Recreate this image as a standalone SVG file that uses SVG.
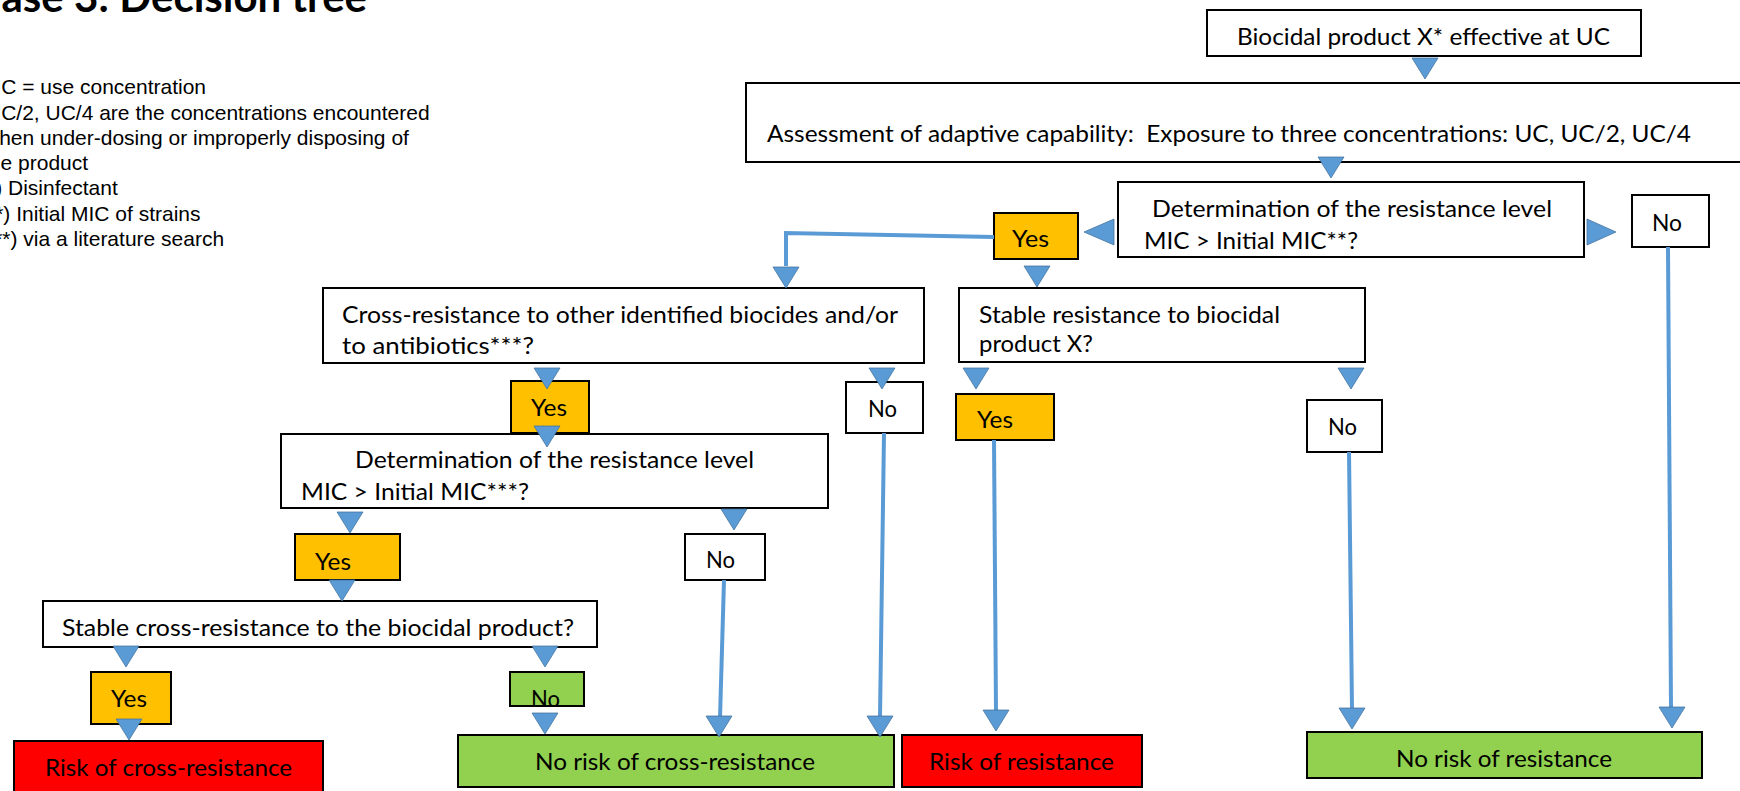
<svg xmlns="http://www.w3.org/2000/svg" width="1740" height="791" viewBox="0 0 1740 791">
<style>
.box{stroke:#000;stroke-width:2}
.w{fill:#fff}.y{fill:#FFC000}.g{fill:#92D050}.r{fill:#FF0000}
.t{font-family:Lato,'Open Sans',sans-serif;font-size:23px;fill:#000}
.leg{font-family:'Liberation Sans',Arial,sans-serif;font-size:21px;fill:#000}
.title{font-family:Lato,'Open Sans',sans-serif;font-size:42px;font-weight:700;fill:#000}
.conn{stroke:#5B9BD5;stroke-width:4;fill:none}
.arr{fill:#5B9BD5;stroke:#41719C;stroke-width:0.75}
</style>
<defs>
<path id="tri" d="M-13,0 L13,0 L0,21 Z"/>
</defs>
<rect width="1740" height="791" fill="#fff"/>
<g id="title"><text class="title" x="367" y="12" text-anchor="end">Phase 3: Decision tree</text></g>
<g id="legend">
<text class="leg" x="-14" y="94">UC = use concentration</text>
<text class="leg" x="-14" y="119.5">UC/2, UC/4 are the concentrations encountered</text>
<text class="leg" x="-16" y="145">when under-dosing or improperly disposing of</text>
<text class="leg" x="-17" y="170">the product</text>
<text class="leg" x="-20" y="195">(*) Disinfectant</text>
<text class="leg" x="-20" y="221">(**) Initial MIC of strains</text>
<text class="leg" x="-21" y="246">(***) via a literature search</text>
</g>
<g id="n-biocidal"><rect class="box w" x="1207" y="10" width="434" height="46"/><text class="t" x="1237" y="45" textLength="373" lengthAdjust="spacingAndGlyphs">Biocidal product X* effective at UC</text></g>
<g id="n-assessment"><rect class="box w" x="746" y="83" width="1000" height="79"/><text class="t" x="767" y="142" textLength="924" lengthAdjust="spacingAndGlyphs" xml:space="preserve">Assessment of adaptive capability:  Exposure to three concentrations: UC, UC/2, UC/4</text></g>
<g id="n-det1"><rect class="box w" x="1118" y="182" width="466" height="75"/><text class="t" x="1152" y="217" textLength="400" lengthAdjust="spacingAndGlyphs">Determination of the resistance level</text><text class="t" x="1144" y="249" textLength="214" lengthAdjust="spacingAndGlyphs">MIC &gt; Initial MIC**?</text></g>
<g id="n-yes1"><rect class="box y" x="994" y="213" width="84" height="46"/><text class="t" x="1012" y="247" textLength="37" lengthAdjust="spacingAndGlyphs">Yes</text></g>
<g id="n-no1"><rect class="box w" x="1632" y="195" width="77" height="52"/><text class="t" x="1652" y="231" textLength="30" lengthAdjust="spacingAndGlyphs">No</text></g>
<g id="n-cross"><rect class="box w" x="323" y="288" width="601" height="75"/><text class="t" x="342" y="323" textLength="556" lengthAdjust="spacingAndGlyphs">Cross-resistance to other identified biocides and/or</text><text class="t" x="342" y="354" textLength="192" lengthAdjust="spacingAndGlyphs">to antibiotics***?</text></g>
<g id="n-stable"><rect class="box w" x="959" y="288" width="406" height="74"/><text class="t" x="979" y="323" textLength="301" lengthAdjust="spacingAndGlyphs">Stable resistance to biocidal</text><text class="t" x="979" y="352" textLength="114" lengthAdjust="spacingAndGlyphs">product X?</text></g>
<g id="n-yes2"><rect class="box y" x="511" y="381" width="78" height="52"/><text class="t" x="531" y="416" textLength="36" lengthAdjust="spacingAndGlyphs">Yes</text></g>
<g id="n-no2"><rect class="box w" x="846" y="382" width="77" height="51"/><text class="t" x="868" y="417" textLength="29" lengthAdjust="spacingAndGlyphs">No</text></g>
<g id="n-yes3"><rect class="box y" x="956" y="394" width="98" height="46"/><text class="t" x="977" y="428" textLength="36" lengthAdjust="spacingAndGlyphs">Yes</text></g>
<g id="n-no3"><rect class="box w" x="1307" y="400" width="75" height="52"/><text class="t" x="1328" y="435" textLength="29" lengthAdjust="spacingAndGlyphs">No</text></g>
<g id="n-det2"><rect class="box w" x="281" y="434" width="547" height="74"/><text class="t" x="355" y="468" textLength="399" lengthAdjust="spacingAndGlyphs">Determination of the resistance level</text><text class="t" x="301" y="500" textLength="228" lengthAdjust="spacingAndGlyphs">MIC &gt; Initial MIC***?</text></g>
<g id="n-yes4"><rect class="box y" x="295" y="534" width="105" height="46"/><text class="t" x="315" y="570" textLength="36" lengthAdjust="spacingAndGlyphs">Yes</text></g>
<g id="n-no4"><rect class="box w" x="685" y="534" width="80" height="46"/><text class="t" x="706" y="568" textLength="29" lengthAdjust="spacingAndGlyphs">No</text></g>
<g id="n-stablecross"><rect class="box w" x="43" y="601" width="554" height="46"/><text class="t" x="62" y="636" textLength="512" lengthAdjust="spacingAndGlyphs">Stable cross-resistance to the biocidal product?</text></g>
<g id="n-yes5"><rect class="box y" x="91" y="672" width="80" height="52"/><text class="t" x="111" y="707" textLength="36" lengthAdjust="spacingAndGlyphs">Yes</text></g>
<g id="n-no5"><rect class="box g" x="510" y="672" width="74" height="34"/><text class="t" x="531" y="707" textLength="29" lengthAdjust="spacingAndGlyphs">No</text></g>
<g id="n-riskcross"><rect class="box r" x="14" y="741" width="309" height="60"/><text class="t" x="45" y="776" textLength="247" lengthAdjust="spacingAndGlyphs">Risk of cross-resistance</text></g>
<g id="n-noriskcross"><rect class="box g" x="458" y="735" width="436" height="52"/><text class="t" x="535" y="770" textLength="280" lengthAdjust="spacingAndGlyphs">No risk of cross-resistance</text></g>
<g id="n-riskres"><rect class="box r" x="902" y="735" width="240" height="52"/><text class="t" x="929" y="770" textLength="185" lengthAdjust="spacingAndGlyphs">Risk of resistance</text></g>
<g id="n-noriskres"><rect class="box g" x="1307" y="732" width="395" height="46"/><text class="t" x="1396" y="767" textLength="216" lengthAdjust="spacingAndGlyphs">No risk of resistance</text></g>
<g id="connectors">
<polyline class="conn" points="994,237 786,233 786,266"/>
<line class="conn" x1="724" y1="580" x2="720" y2="718"/>
<line class="conn" x1="884" y1="433" x2="880" y2="718"/>
<line class="conn" x1="994" y1="440" x2="996" y2="711"/>
<line class="conn" x1="1349" y1="452" x2="1352" y2="709"/>
<line class="conn" x1="1668" y1="247" x2="1671" y2="708"/>
<use href="#tri" class="arr" x="1425" y="58"/>
<use href="#tri" class="arr" x="1331" y="157"/>
<use href="#tri" class="arr" x="1037" y="266"/>
<use href="#tri" class="arr" x="786" y="267"/>
<use href="#tri" class="arr" x="547" y="368"/>
<use href="#tri" class="arr" x="882" y="368"/>
<use href="#tri" class="arr" x="976" y="368"/>
<use href="#tri" class="arr" x="1351" y="368"/>
<use href="#tri" class="arr" x="547" y="426"/>
<use href="#tri" class="arr" x="350" y="512"/>
<use href="#tri" class="arr" x="734" y="509"/>
<use href="#tri" class="arr" x="342" y="580"/>
<use href="#tri" class="arr" x="126" y="646"/>
<use href="#tri" class="arr" x="545" y="646"/>
<use href="#tri" class="arr" x="129" y="719"/>
<use href="#tri" class="arr" x="545" y="713"/>
<use href="#tri" class="arr" x="719" y="716"/>
<use href="#tri" class="arr" x="880" y="716"/>
<use href="#tri" class="arr" x="996" y="710"/>
<use href="#tri" class="arr" x="1352" y="708"/>
<use href="#tri" class="arr" x="1672" y="707"/>
<path class="arr" d="M1084,232 L1114,219 L1114,245 Z"/>
<path class="arr" d="M1616,232 L1587,219 L1587,245 Z"/>
</g>
</svg>
